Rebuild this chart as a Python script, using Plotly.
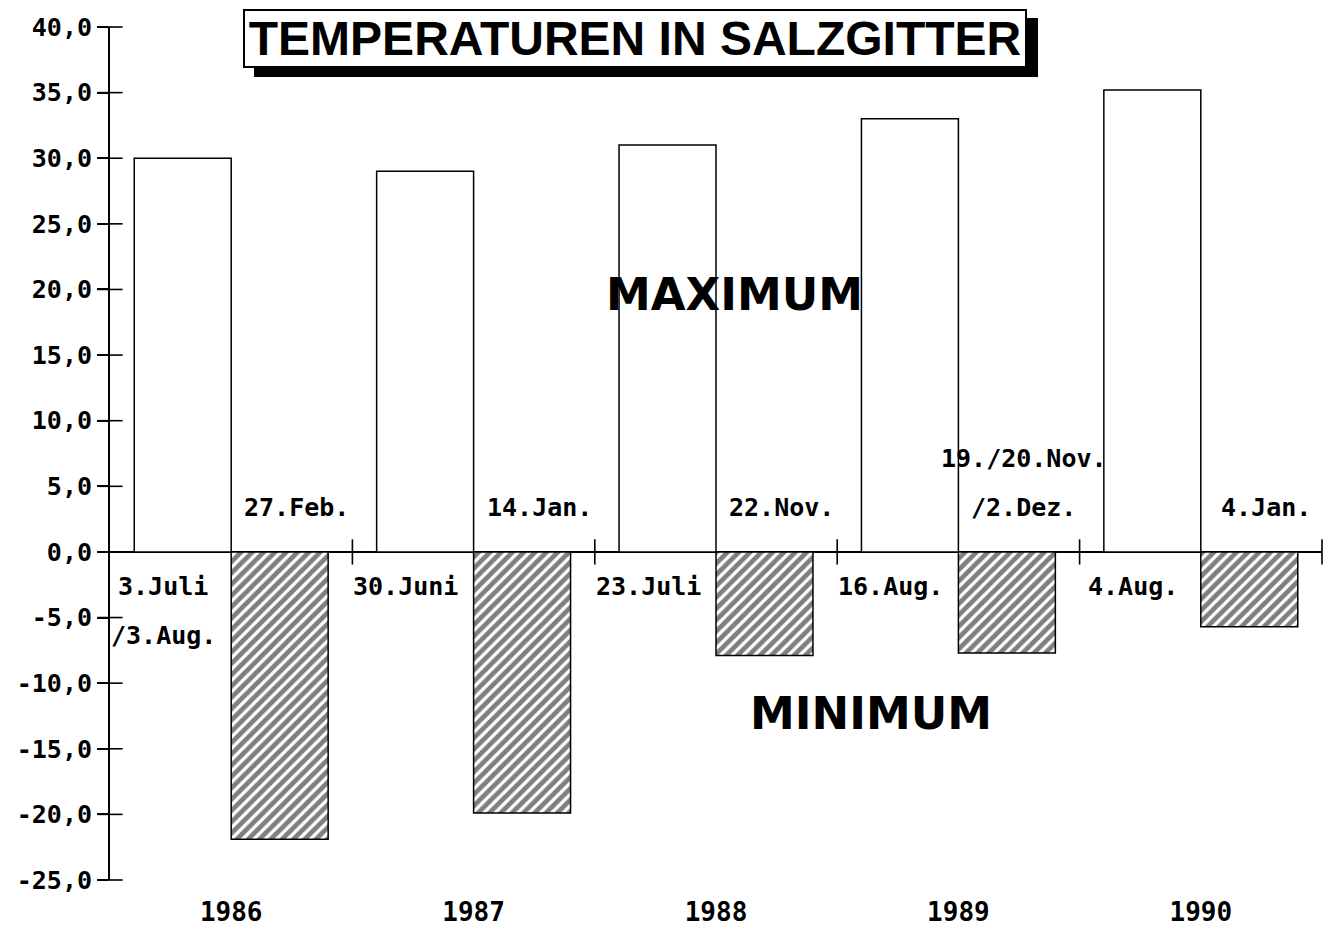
import plotly.graph_objects as go

# ---- data ----
years = ["1986", "1987", "1988", "1989", "1990"]
max_temps = [30.0, 29.0, 31.0, 33.0, 35.2]
min_temps = [-21.9, -19.9, -7.9, -7.7, -5.7]
max_dates = ["3.Juli\n/3.Aug.", "30.Juni", "23.Juli", "16.Aug.", "4.Aug."]
min_dates = ["27.Feb.", "14.Jan.", "22.Nov.", "19./20.Nov.\n/2.Dez.", "4.Jan."]
ytick_vals = [-25, -20, -15, -10, -5, 0, 5, 10, 15, 20, 25, 30, 35, 40]
ytick_labels = ["-25,0", "-20,0", "-15,0", "-10,0", "-5,0", "0,0", "5,0", "10,0",
                "15,0", "20,0", "25,0", "30,0", "35,0", "40,0"]
title_text = "TEMPERATUREN IN SALZGITTER"

MONO = "DejaVu Sans Mono"
idx = list(range(len(years)))
x_max = [i + 0.3 for i in idx]
x_min = [i + 0.7 for i in idx]
x_center = [i + 0.5 for i in idx]
x_bounds = [i + 1 for i in idx]

fig = go.Figure()
fig.add_trace(go.Bar(
    x=x_max, y=max_temps, width=0.4, name="Maximum",
    marker=dict(color="white", line=dict(color="black", width=1.5)),
))
fig.add_trace(go.Bar(
    x=x_min, y=min_temps, width=0.4, name="Minimum",
    marker=dict(color="white", line=dict(color="black", width=1.5),
                pattern=dict(shape="/", fgcolor="black", bgcolor="white",
                             size=8, solidity=0.6)),
))
# crossing tick marks on the zero line (category boundaries)
fig.add_trace(go.Scatter(
    x=x_bounds, y=[0] * len(x_bounds), mode="markers", cliponaxis=False,
    marker=dict(symbol="line-ns", size=18, line=dict(color="black", width=1.6)),
    hoverinfo="skip",
))
# crossing tick marks on the y axis
fig.add_trace(go.Scatter(
    x=[0] * len(ytick_vals), y=ytick_vals, mode="markers", cliponaxis=False,
    marker=dict(symbol="line-ew", size=18, line=dict(color="black", width=1.6)),
    hoverinfo="skip",
))

annotations = []
LINE_STEP = 3.75  # data units between label lines
for i, lab in enumerate(max_dates):
    for k, line in enumerate(lab.split("\n")):
        annotations.append(dict(
            x=x_max[i] - 0.08, y=-2.6 - k * LINE_STEP, text=line, showarrow=False,
            xanchor="center", yanchor="middle",
            font=dict(family=MONO, size=25, color="black", weight="bold")))
for i, lab in enumerate(min_dates):
    lines = lab.split("\n")
    n = len(lines)
    for k, line in enumerate(lines):
        annotations.append(dict(
            x=x_min[i] + 0.07, y=3.4 + (n - 1 - k) * LINE_STEP, text=line,
            showarrow=False, xanchor="center", yanchor="middle",
            font=dict(family=MONO, size=25, color="black", weight="bold")))

annotations.append(dict(x=2.578, y=19.6, text="MAXIMUM", showarrow=False,
                        font=dict(family="DejaVu Sans", size=45, color="black", weight="bold")))
annotations.append(dict(x=3.14, y=-12.35, text="MINIMUM", showarrow=False,
                        font=dict(family="DejaVu Sans", size=45, color="black", weight="bold")))

# title shadow (empty black box) then title box
annotations.append(dict(
    xref="paper", yref="paper", x=0.4332, y=0.9865, xanchor="center", yanchor="middle",
    text=" ", showarrow=False, width=776, height=51,
    font=dict(family="Liberation Sans", size=10, color="black"),
    bgcolor="black", bordercolor="black", borderwidth=2, borderpad=2,
    xshift=11, yshift=-9,
))
annotations.append(dict(
    xref="paper", yref="paper", x=0.4332, y=0.9865, xanchor="center", yanchor="middle",
    text=title_text, showarrow=False, width=776, height=51,
    font=dict(family="Liberation Sans", size=48, color="black", weight="bold"),
    bgcolor="white", bordercolor="black", borderwidth=2, borderpad=2,
))

# the page body adds an 8px offset, so the figure is sized and placed to compensate
fig.update_layout(
    width=1324, height=922,
    margin=dict(l=102, r=10, t=19, b=50),
    paper_bgcolor="white", plot_bgcolor="white",
    showlegend=False, barmode="overlay",
    annotations=annotations,
    xaxis=dict(range=[0, 5], tickvals=x_center, ticktext=years, automargin=False,
               showgrid=False, zeroline=False, showline=False,
               ticks="outside", ticklen=9, tickcolor="rgba(0,0,0,0)",
               tickfont=dict(family=MONO, size=26, color="black", weight="bold")),
    yaxis=dict(range=[-25, 40], tickvals=ytick_vals, ticktext=ytick_labels, automargin=False,
               showgrid=False, zeroline=True, zerolinecolor="black", zerolinewidth=2,
               showline=True, linecolor="black", linewidth=2,
               ticks="outside", ticklen=11, tickcolor="black", tickwidth=1.6,
               tickfont=dict(family=MONO, size=25, color="black", weight="bold")),
)

fig.write_html("out.html")
